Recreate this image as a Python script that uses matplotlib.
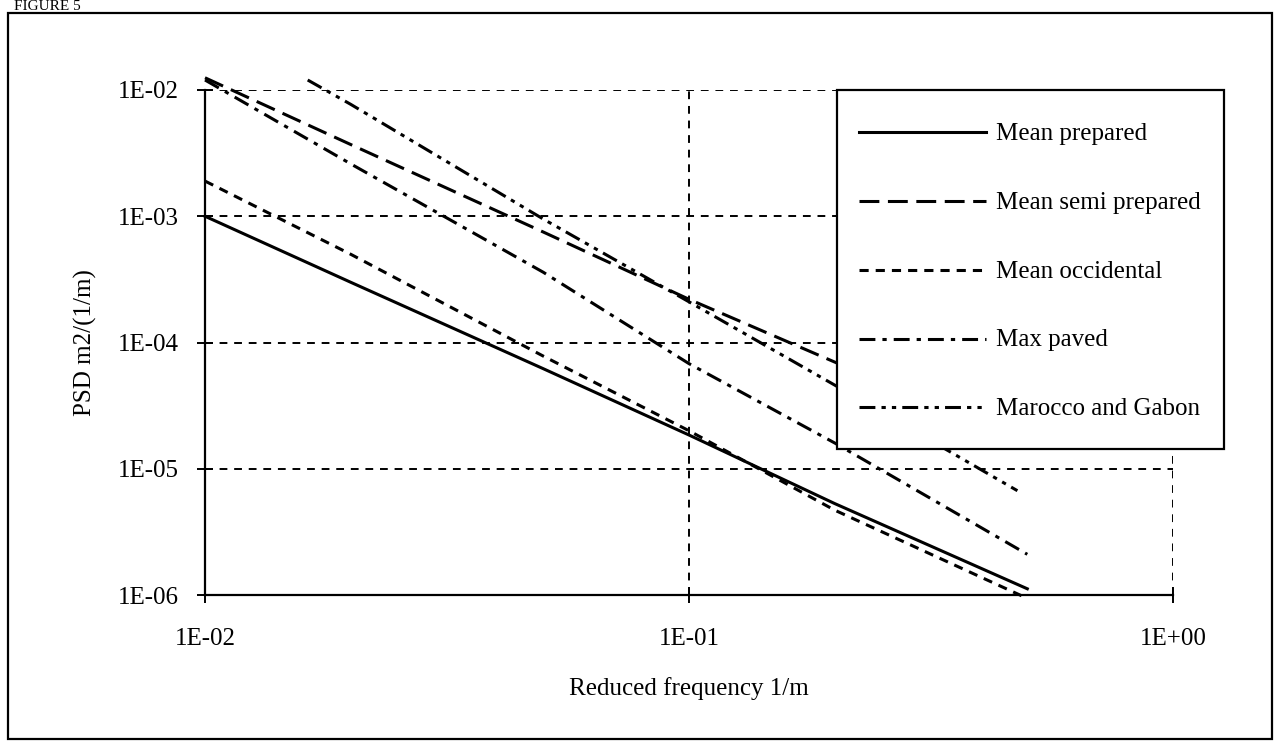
import numpy as np
import matplotlib
matplotlib.use("Agg")
import matplotlib.pyplot as plt
from matplotlib.lines import Line2D
from matplotlib.legend_handler import HandlerLine2D
from matplotlib.patches import Rectangle
from matplotlib.ticker import FixedLocator, FuncFormatter, NullLocator

# data (PSD m2/(1/m) vs reduced frequency 1/m)
freq = [0.01, 0.02, 0.05, 0.1, 0.2, 0.5]
mean_prepared = [1.0e-3, 3.0e-4, 6.2e-5, 1.85e-5, 5.3e-6, 1.12e-6]
mean_semi_prepared = [1.25e-2, 3.7e-3, 7.5e-4, 2.2e-4, 7.0e-5, 1.55e-5]
mean_occidental = [1.9e-3, 5.0e-4, 7.8e-5, 2.0e-5, 4.7e-6, 9.4e-7]
max_paved = [1.2e-2, 2.6e-3, 3.6e-4, 6.8e-5, 1.6e-5, 2.1e-6]
freq_mg = [0.0163, 0.02, 0.05, 0.1, 0.2, 0.477]
marocco_gabon = [1.2e-2, 7.7e-3, 9.5e-4, 2.1e-4, 4.6e-5, 6.7e-6]

labels = ["Mean prepared", "Mean semi prepared", "Mean occidental",
          "Max paved", "Marocco and Gabon"]
xticks = [1e-2, 1e-1, 1e0]
yticks = [1e-6, 1e-5, 1e-4, 1e-3, 1e-2]

plt.rcParams['font.family'] = ['Liberation Serif', 'DejaVu Serif']
plt.rcParams['font.size'] = 18


# legend lines sit level with the middle of the text
class LowLine(HandlerLine2D):
    def create_artists(self, legend, orig_handle, xdescent, ydescent,
                       width, height, fontsize, trans):
        arts = super().create_artists(legend, orig_handle, xdescent, ydescent,
                                      width, height, fontsize, trans)
        for a in arts:
            a.set_ydata(np.asarray(a.get_ydata()) - 4.3)
        return arts


W, H = 1281, 741
fig = plt.figure(figsize=(W / 100, H / 100), dpi=100)
ax = fig.add_axes([205 / W, 1 - 595 / H, (1173 - 205) / W, (595 - 90) / H])

# outer frame and caption
fig.patches.append(Rectangle((8 / W, 2 / H), (1272 - 8) / W, (739 - 13) / H,
                             transform=fig.transFigure, fill=False,
                             edgecolor='black', linewidth=1.6))
fig.text(14 / W, 1.0, "FIGURE 5", fontsize=11, va='top', ha='left')

lw = 2.2
series = [
    (freq, mean_prepared, '-'),
    (freq, mean_semi_prepared, (0, (6.5, 2.8))),
    (freq, mean_occidental, (0, (3.0, 2.3))),
    (freq, max_paved, (0, (5.2, 2.3, 1.4, 2.3))),
    (freq_mg, marocco_gabon, (0, (5.2, 2.0, 1.4, 2.0, 1.4, 2.0))),
]
for (x, y, ls), lab in zip(series, labels):
    ax.plot(x, y, color='black', linestyle=ls, linewidth=lw, label=lab,
            clip_on=False, zorder=3)

ax.set_xscale('log')
ax.set_yscale('log')
ax.set_xlim(1e-2, 1e0)
ax.set_ylim(1e-6, 1e-2)

ax.xaxis.set_major_locator(FixedLocator(xticks))
ax.yaxis.set_major_locator(FixedLocator(yticks))
ax.xaxis.set_minor_locator(NullLocator())
ax.yaxis.set_minor_locator(NullLocator())
fmt = FuncFormatter(lambda v, p: f"{v:.0E}")
ax.xaxis.set_major_formatter(fmt)
ax.yaxis.set_major_formatter(fmt)

ax.grid(True, which='major', color='black', linestyle=(0, (4, 3.5)),
        linewidth=1.4)
ax.set_axisbelow(True)
for s in ['top', 'right']:
    ax.spines[s].set_visible(False)
for s in ['left', 'bottom']:
    ax.spines[s].set_linewidth(1.6)
ax.tick_params(axis='both', direction='inout', length=12, width=1.4,
               labelsize=18)
ax.tick_params(axis='y', pad=13)
ax.tick_params(axis='x', pad=17.5)

ax.set_xlabel("Reduced frequency 1/m", fontsize=18, labelpad=20)
ax.set_ylabel("PSD m2/(1/m)", fontsize=18, labelpad=14.5)

# legend box spans past the right edge of the plot, as in the original
leg = ax.legend(loc='upper left', bbox_to_anchor=(837 / W, 1 - 90 / H),
                bbox_transform=fig.transFigure, borderaxespad=0,
                frameon=True, fancybox=False, framealpha=1,
                edgecolor='black', fontsize=18, handlelength=5.08,
                handleheight=2.04, handletextpad=0.4, labelspacing=1.18,
                borderpad=0.9, handler_map={Line2D: LowLine()})
leg.get_frame().set_linewidth(1.6)
leg.set_zorder(5)

fig.savefig("out.png", dpi=100)
